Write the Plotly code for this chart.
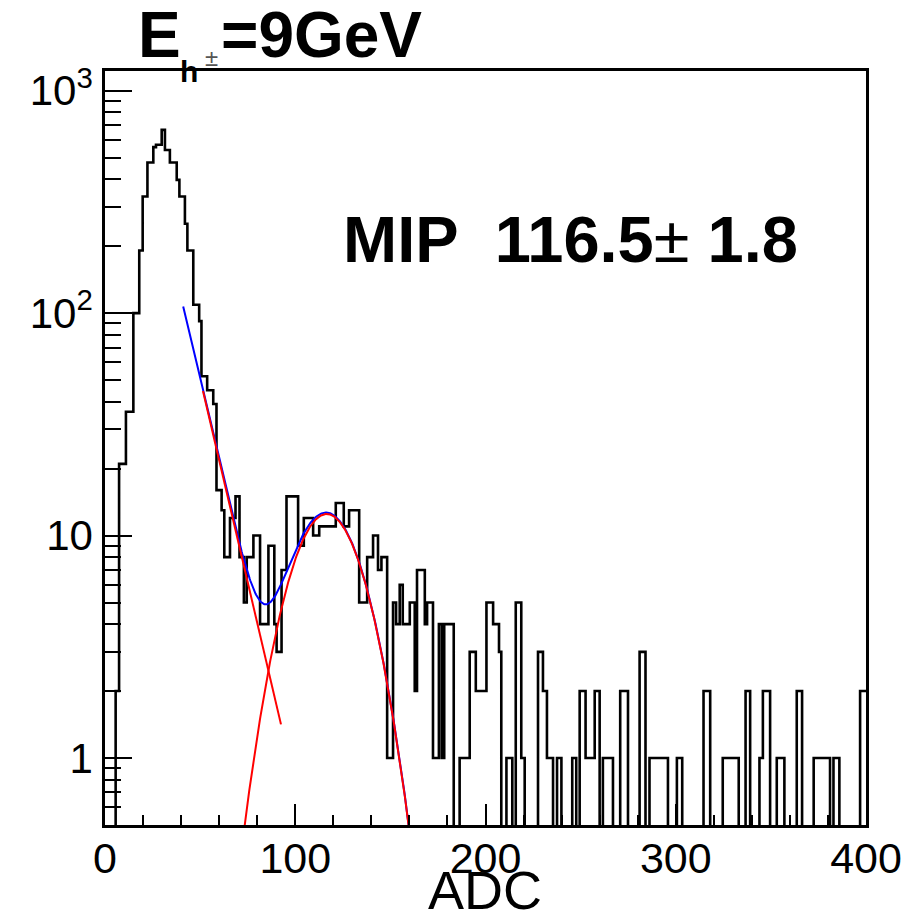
import numpy as np
import plotly.graph_objects as go

# ---------------- data ----------------
# histogram: lower bin edges (ADC) and counts; last edge = 400
bin_low = [
    0, 5.6, 7.4, 11.0, 14.9, 18.0, 19.8, 22.3, 25.4, 26.8,
    29.8, 31.5, 34.1, 37.7, 39.1, 42.0, 43.3, 46.4, 49.5, 50.7,
    53.7, 56.9, 58.6, 61.3, 62.7, 65.7, 68.6, 70.7, 73.0, 74.5,
    78.0, 81.5, 85.9, 89.0, 90.2, 92.8, 95.4, 101.5, 104.5, 109.4,
    112.6, 121.3, 125.5, 128.3, 133.6, 137.8, 140.9, 143.5, 145.3, 148.3,
    151.4, 153.0, 154.9, 156.5, 158.1, 160.2, 162.8, 164.0, 168.1, 169.3,
    172.4, 175.5, 177.0, 178.3, 183.3, 186.4, 191.7, 194.9, 200.5, 204.0,
    207.1, 208.3, 211.0, 214.1, 215.9, 218.8, 220.6, 227.6, 230.2, 232.3,
    235.5, 237.6, 239.9, 245.6, 247.7, 249.5, 252.6, 257.4, 260.0, 261.7,
    267.0, 270.8, 274.9, 281.0, 284.1, 286.2, 295.9, 300.6, 303.4, 314.6,
    318.1, 324.7, 333.1, 336.7, 339.1, 344.0, 345.8, 349.6, 353.1, 357.1,
    363.6, 366.4, 372.5, 381.1, 382.9, 386.0, 396.9,
]
bin_counts = [
    0, 2, 21, 36, 100, 191, 334, 475, 557, 571,
    666, 541, 475, 397, 334, 252, 191, 109, 92, 52,
    45, 39, 16, 13, 8, 12, 15, 8, 5, 8,
    10, 4, 9, 4, 3, 7, 15, 9, 12, 10,
    11, 14, 11, 13, 5, 8, 10, 7, 8, 1,
    5, 4, 6, 4, 4, 5, 2, 7, 4, 5,
    1, 4, 1, 4, 0, 1, 3, 2, 5, 4,
    3, 0, 1, 0, 5, 1, 0, 3, 2, 1,
    0, 1, 0, 1, 0, 2, 1, 2, 0, 1,
    0, 2, 0, 3, 0, 1, 0, 1, 0, 2,
    0, 1, 0, 2, 0, 1, 2, 0, 1, 0,
    2, 0, 1, 0, 1, 0, 2,
]
x_max = 400

# fit parameters (expo + gaus)
expo_p0, expo_p1 = 8.133, -0.08416
gaus_amp, gaus_mean, gaus_sigma = 12.5, 116.5, 17.0
total_range = (41.1, 165.0)
expo_range = (51.5, 92.5)
gaus_range = (70.0, 165.0)

x_ticks = [0, 100, 200, 300, 400]
y_ticks = [1, 10, 100, 1000]
y_ticktext = ["1", "10", "10<sup>2</sup>", "10<sup>3</sup>"]
y_minor = [0.6, 0.7, 0.8, 0.9] + [m * d for d in (1, 10, 100) for m in range(2, 10)]
mip_text = "MIP\u00a0\u00a0116.5<span style='font-weight:normal'>\u00b1</span>\u00a01.8"

# ---------------- figure ----------------
def expo(x):
    return np.exp(expo_p0 + expo_p1 * x)

def gaus(x):
    return gaus_amp * np.exp(-0.5 * ((x - gaus_mean) / gaus_sigma) ** 2)

floor = 0.05
hx = list(bin_low) + [x_max]
hy = [c if c > 0 else floor for c in bin_counts]
hy = hy + [hy[-1]]

fig = go.Figure()
fig.add_trace(go.Scatter(x=hx, y=hy, mode="lines",
                         line=dict(color="black", width=2.6, shape="hv"),
                         hoverinfo="skip"))

xt = np.linspace(*total_range, 500)
fig.add_trace(go.Scatter(x=xt, y=expo(xt) + gaus(xt), mode="lines",
                         line=dict(color="#0000ff", width=2)))
xe = np.linspace(*expo_range, 200)
fig.add_trace(go.Scatter(x=xe, y=expo(xe), mode="lines",
                         line=dict(color="#ff0000", width=2)))
xg = np.linspace(*gaus_range, 400)
fig.add_trace(go.Scatter(x=xg, y=gaus(xg), mode="lines",
                         line=dict(color="#ff0000", width=2)))

FONT = "Liberation Sans, Arial, sans-serif"
OFF = 8  # default page body margin
L, R, T, B = 97, 57, 63, 89
W, H = 915, 906
pw, ph = W - L - R, H - T - B

def px(xpage):
    return (xpage - OFF - L) / pw

def py(ypage):
    return (H - B - (ypage - OFF)) / ph

fig.update_layout(
    width=W, height=H,
    margin=dict(l=L, r=R, t=T, b=B, pad=0, autoexpand=False),
    paper_bgcolor="white", plot_bgcolor="white",
    showlegend=False,
    font=dict(family=FONT, color="black"),
    xaxis=dict(
        range=[0, x_max], showgrid=False, zeroline=False, automargin=False,
        showline=True, mirror=True, linecolor="black", linewidth=2.5,
        ticks="inside", ticklen=21, tickwidth=2, tickcolor="black",
        tickmode="array", tickvals=x_ticks,
        minor=dict(tickmode="linear", tick0=0, dtick=20, ticks="inside",
                   ticklen=10, tickwidth=2, tickcolor="black", showgrid=False),
        tickfont=dict(family=FONT, size=43, color="black"),
        ticklabelstandoff=-6,
    ),
    yaxis=dict(
        type="log", range=[np.log10(0.5), np.log10(1225)],
        showgrid=False, zeroline=False, automargin=False,
        showline=True, mirror=True, linecolor="black", linewidth=2.5,
        ticks="inside", ticklen=27, tickwidth=2, tickcolor="black",
        tickmode="array", tickvals=y_ticks, ticktext=y_ticktext,
        minor=dict(tickmode="array", tickvals=y_minor, ticks="inside",
                   ticklen=16, tickwidth=2, tickcolor="black", showgrid=False),
        tickfont=dict(family=FONT, size=42, color="black"),
        ticklabelstandoff=1,
    ),
    annotations=[
        dict(text="E", xref="paper", yref="paper", x=px(136), y=py(35),
             xanchor="left", yanchor="middle", showarrow=False,
             font=dict(family=FONT, size=64, color="black", weight="bold")),
        dict(text="h", xref="paper", yref="paper", x=px(178), y=py(72),
             xanchor="left", yanchor="middle", showarrow=False,
             font=dict(family=FONT, size=30, color="black", weight="bold")),
        dict(text="\u00b1", xref="paper", yref="paper", x=px(203), y=py(57),
             xanchor="left", yanchor="middle", showarrow=False,
             font=dict(family=FONT, size=24, color="#555555")),
        dict(text="=9GeV", xref="paper", yref="paper", x=px(219), y=py(35),
             xanchor="left", yanchor="middle", showarrow=False,
             font=dict(family=FONT, size=64, color="black", weight="bold")),
        dict(text=mip_text, xref="paper", yref="paper", x=px(341), y=py(239),
             xanchor="left", yanchor="middle", showarrow=False,
             font=dict(family=FONT, size=65, color="black", weight="bold")),
        dict(text="ADC", xref="paper", yref="paper", x=px(485), y=py(890),
             xanchor="center", yanchor="middle", showarrow=False,
             font=dict(family=FONT, size=54, color="black")),
    ],
)

fig.write_html("out.html")
